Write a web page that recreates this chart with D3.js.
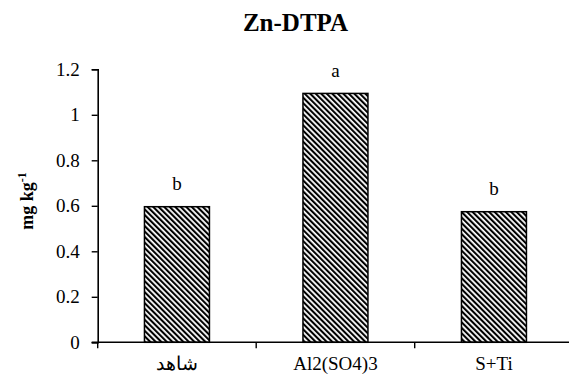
<!DOCTYPE html>
<html>
<head>
<meta charset="utf-8">
<script src="https://cdn.jsdelivr.net/npm/d3@7"></script>
<style>
  @font-face { font-family: "RefSerif"; font-weight: normal; src: local("Liberation Serif"), local("LiberationSerif"), local("Liberation Serif Regular"); }
  @font-face { font-family: "RefSerif"; font-weight: bold; src: local("Liberation Serif Bold"), local("LiberationSerif-Bold"); }
  html, body { margin: 0; padding: 0; background: #fff; }
  svg { display: block; }
</style>
</head>
<body>
<svg id="chart" width="569" height="376"></svg>
<script>
const categories = ["\u0634\u0627\u0647\u062F", "Al2(SO4)3", "S+Ti"];
const values = [0.596, 1.094, 0.574];
const letters = ["b", "a", "b"];
const yTicks = [0, 0.2, 0.4, 0.6, 0.8, 1, 1.2];
const titleText = "Zn-DTPA";

const FONT = '"Liberation Serif", RefSerif, "Times New Roman", Tinos, serif';
const svg = d3.select("#chart");
const W = 569;
const mLeft = 97.7, mRight = 573.2, mTop = 69.3, mBottom = 342.3;

function serif(sel, size, bold) {
  sel.style("font-family", FONT).style("font-size", size + "px");
  if (bold) sel.style("font-weight", "bold");
  return sel;
}

const defs = svg.append("defs");
const pat = defs.append("pattern")
  .attr("id", "hatch")
  .attr("patternUnits", "userSpaceOnUse")
  .attr("width", 3.9).attr("height", 3.9)
  .attr("patternTransform", "rotate(-45)");
pat.append("rect").attr("width", 3.9).attr("height", 3.9).attr("fill", "#fff");
pat.append("rect").attr("width", 2.1).attr("height", 3.9).attr("fill", "#000");

const x = d3.scaleBand().domain(categories).range([mLeft, mRight])
  .paddingInner(0.59).paddingOuter(0.295);
const y = d3.scaleLinear().domain([0, 1.2]).range([mBottom, mTop]);

// bars
svg.append("g").selectAll("rect").data(values).join("rect")
  .attr("x", (d, i) => x(categories[i]))
  .attr("y", d => y(d))
  .attr("width", x.bandwidth())
  .attr("height", d => y(0) - y(d))
  .attr("fill", "url(#hatch)")
  .attr("stroke", "#000")
  .attr("stroke-width", 1.5);

// title
serif(svg.append("text")
  .attr("x", 295.5).attr("y", 30.7)
  .attr("text-anchor", "middle"), 25, true)
  .text(titleText);

// letters
serif(svg.append("g").selectAll("text").data(values).join("text")
  .attr("x", (d, i) => x(categories[i]) + x.bandwidth() / 2)
  .attr("y", d => y(d) - 16.5)
  .attr("text-anchor", "middle"), 19)
  .text((d, i) => letters[i]);

// y axis
const yAxis = svg.append("g").attr("transform", `translate(${mLeft},0)`)
  .call(d3.axisLeft(y).tickValues(yTicks).tickSize(6).tickPadding(12).tickFormat(d => String(d)));
yAxis.attr("font-family", null).attr("font-size", null);
yAxis.select(".domain").attr("stroke", "#000").attr("stroke-width", 1.6);
yAxis.selectAll(".tick line").attr("stroke", "#000").attr("stroke-width", 1.4);
serif(yAxis.selectAll(".tick text"), 19).attr("fill", "#000");

// x axis
const bounds = d3.range(categories.length + 1).map(i => mLeft + i * x.step());
const xAxis = svg.append("g").attr("transform", `translate(0,${mBottom})`);
xAxis.append("line").attr("x1", mLeft - 6).attr("x2", W).attr("y1", 0).attr("y2", 0)
  .attr("stroke", "#000").attr("stroke-width", 1.6);
xAxis.selectAll(".bt").data(bounds).join("line").attr("class", "bt")
  .attr("x1", d => d).attr("x2", d => d).attr("y1", 0).attr("y2", 6)
  .attr("stroke", "#000").attr("stroke-width", 1.4);
serif(xAxis.selectAll(".xl").data(categories).join("text").attr("class", "xl")
  .attr("x", d => x(d) + x.bandwidth() / 2)
  .attr("y", 28)
  .attr("text-anchor", "middle"), 19)
  .text(d => d);

// y title
const yt = serif(svg.append("text")
  .attr("transform", "translate(33,201) rotate(-90)")
  .attr("text-anchor", "middle"), 18, true);
yt.append("tspan").text("mg kg");
yt.append("tspan").attr("dy", -7).style("font-size", "12px").text("-1");
</script>
</body>
</html>
